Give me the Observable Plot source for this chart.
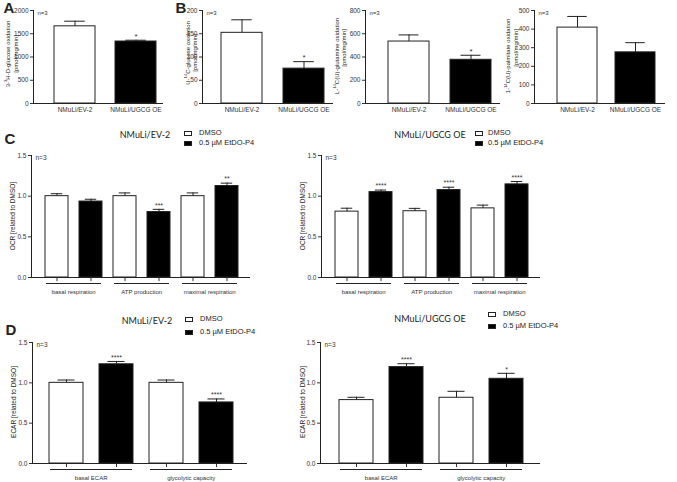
<!DOCTYPE html>
<html><head><meta charset="utf-8">
<script src="https://cdn.jsdelivr.net/npm/d3@7"></script>
<script src="https://cdn.jsdelivr.net/npm/@observablehq/plot@0.6"></script>
<style>
body{margin:0;background:#fff;}
#fig{position:relative;width:677px;height:482px;overflow:hidden;font-family:"Liberation Sans",Arial,sans-serif;color:#222;background:#fff;}
.abs{position:absolute;white-space:nowrap;line-height:1;}
.pane{position:absolute;}
sup{font-size:70%;vertical-align:super;line-height:0;}
</style></head><body><div id="fig"></div>
<script>
// ---------- data ----------
const cats = ["NMuLi/EV-2", "NMuLi/UGCG OE"];
// A
const glucose3H = [1660, 1333];
const glucose3HSem = [110, 28];
const glucose3HSig = ["", "*"];
const ticksA = [0, 500, 1000, 1500, 2000];
// B
const glucoseU14C = [152, 75];
const glucoseU14CSem = [28, 15];
const glucoseU14CSig = ["", "*"];
const ticksB1 = [0, 50, 100, 150, 200];
const glutamine = [533, 376];
const glutamineSem = [57, 39];
const glutamineSig = ["", "*"];
const ticksB2 = [0, 200, 400, 600, 800];
const palmitate = [408, 275];
const palmitateSem = [60, 52];
const palmitateSig = ["", ""];
const ticksB3 = [0, 100, 200, 300, 400, 500];
// C / D
const treatments = ["DMSO", "0.5 µM EtDO-P4"];
const ticksRel = [0, 0.5, 1.0, 1.5];
const ocrGroups = ["basal respiration", "ATP production", "maximal respiration"];
const ocrEvDmso = [1.0, 1.0, 1.0];
const ocrEvDmsoSem = [0.03, 0.04, 0.04];
const ocrEvEtdo = [0.934, 0.805, 1.125];
const ocrEvEtdoSem = [0.028, 0.033, 0.035];
const ocrEvSig = ["", "***", "**"];
const ocrOeDmso = [0.81, 0.815, 0.85];
const ocrOeDmsoSem = [0.042, 0.035, 0.04];
const ocrOeEtdo = [1.05, 1.075, 1.145];
const ocrOeEtdoSem = [0.025, 0.035, 0.035];
const ocrOeSig = ["****", "****", "****"];
const ecarGroups = ["basal ECAR", "glycolytic capacity"];
const ecarEvDmso = [1.0, 1.0];
const ecarEvDmsoSem = [0.035, 0.035];
const ecarEvEtdo = [1.23, 0.757];
const ecarEvEtdoSem = [0.035, 0.043];
const ecarEvSig = ["****", "****"];
const ecarOeDmso = [0.786, 0.815];
const ecarOeDmsoSem = [0.035, 0.08];
const ecarOeEtdo = [1.195, 1.05];
const ecarOeEtdoSem = [0.042, 0.068];
const ecarOeSig = ["****", "*"];

// ---------- helpers ----------
const INK = "#222";
const FONT = "Liberation Sans, Arial, sans-serif";
const fig = document.getElementById("fig");

function place(node, left, top) {
  const d = document.createElement("div");
  d.className = "pane";
  d.style.left = left + "px";
  d.style.top = top + "px";
  d.appendChild(node);
  fig.appendChild(d);
}
function txt(html, x, y, {size = 7, anchor = "start", weight = "normal", rotate = false, family = FONT} = {}) {
  const s = document.createElement("div");
  s.className = "abs";
  s.innerHTML = html;
  s.style.left = x + "px";
  s.style.top = y + "px";
  s.style.fontSize = size + "px";
  s.style.fontWeight = weight;
  s.style.fontFamily = family;
  const tx = anchor === "middle" ? "-50%" : anchor === "end" ? "-100%" : "0";
  s.style.transform = rotate ? "translate(-50%,-50%) rotate(-90deg)" : `translate(${tx},-50%)`;
  fig.appendChild(s);
}
function box(x, y, fill) {
  const b = document.createElement("div");
  b.style.cssText = `position:absolute;left:${x}px;top:${y}px;width:8px;height:5px;background:${fill};border:1px solid ${INK};box-sizing:border-box;`;
  fig.appendChild(b);
}

const baseStyle = {background: "transparent", fontFamily: FONT, fontSize: "6.5px", color: "#333", overflow: "visible"};

function oxChart({values, sems, sigs, ticks, plotW, band}) {
  const rows = cats.map((c, i) => ({cat: c, v: values[i], e: values[i] + sems[i], sig: sigs[i], fill: i ? "black" : "white"}));
  const ML = 28, MR = 6;
  const step = plotW / (2 - band[0] + 2 * band[1]);
  const bw = step * (1 - band[0]);
  return Plot.plot({
    width: ML + plotW + MR, height: 120,
    marginLeft: ML, marginRight: MR, marginTop: 10, marginBottom: 17,
    style: baseStyle,
    color: {type: "identity"},
    x: {domain: cats, paddingInner: band[0], paddingOuter: band[1], align: band[2], tickSize: 0, tickPadding: 4, label: null},
    y: {domain: [ticks[0], ticks[ticks.length - 1]], ticks, tickFormat: d3.format("d"), tickSize: 3, tickPadding: 2, label: null},
    marks: [
      Plot.frame({anchor: "left", stroke: INK}),
      Plot.barY(rows, {x: "cat", y: "v", fill: "fill", stroke: INK}),
      Plot.ruleX(rows, {x: "cat", y1: "v", y2: "e", stroke: INK}),
      Plot.tickY(rows, {x: "cat", y: "e", stroke: INK, inset: bw / 4}),
      Plot.text(rows, {x: "cat", y: "e", text: "sig", dy: -4, fontSize: 8}),
      Plot.ruleY([0], {stroke: INK}),
      Plot.text(["n=3"], {frameAnchor: "top-left", textAnchor: "start", text: d => d, dx: 4, fontSize: 6})
    ]
  });
}

function seaChart({groups, dmso, dmsoSem, etdo, etdoSem, sig, plotW, band, height, mb}) {
  const rows = [];
  groups.forEach((g, i) => {
    rows.push({key: g + "|" + treatments[0], v: dmso[i], e: dmso[i] + dmsoSem[i], sig: "", fill: "white"});
    rows.push({key: g + "|" + treatments[1], v: etdo[i], e: etdo[i] + etdoSem[i], sig: sig[i], fill: "black"});
  });
  const ML = 20, MR = 5;
  const step = plotW / (rows.length - band[0] + 2 * band[1]);
  const bw = step * (1 - band[0]);
  return Plot.plot({
    width: ML + plotW + MR, height,
    marginLeft: ML, marginRight: MR, marginTop: 10, marginBottom: mb,
    style: baseStyle,
    color: {type: "identity"},
    x: {domain: rows.map(d => d.key), paddingInner: band[0], paddingOuter: band[1], align: band[2], tickSize: 4, tickFormat: () => "", label: null},
    y: {domain: [0, 1.5], ticks: ticksRel, tickFormat: d3.format(".1f"), tickSize: 3, tickPadding: 2, label: null},
    marks: [
      Plot.frame({anchor: "left", stroke: INK}),
      Plot.barY(rows, {x: "key", y: "v", fill: "fill", stroke: INK}),
      Plot.ruleX(rows, {x: "key", y1: "v", y2: "e", stroke: INK}),
      Plot.tickY(rows, {x: "key", y: "e", stroke: INK, inset: bw / 4}),
      Plot.text(rows, {x: "key", y: "e", text: "sig", dy: -4, fontSize: 7}),
      Plot.ruleY([0], {stroke: INK}),
      Plot.ruleY(groups, {x1: g => g + "|" + treatments[0], x2: g => g + "|" + treatments[1], y: () => 0, dy: 6, insetLeft: 1, insetRight: 1, stroke: INK}),
      Plot.text(groups, {x: g => g + "|" + treatments[1], y: () => 0, text: d => d, dx: -step / 2, dy: 15, fontSize: 6}),
      Plot.text(["n=3"], {frameAnchor: "top-left", textAnchor: "start", text: d => d, dx: 4, fontSize: 6.5})
    ]
  });
}

// ---------- A / B ----------
place(oxChart({values: glucose3H, sems: glucose3HSem, sigs: glucose3HSig, ticks: ticksA, plotW: 130, band: [0.33, 0.23, 0.75]}), 5, 0);
place(oxChart({values: glucoseU14C, sems: glucoseU14CSem, sigs: glucoseU14CSig, ticks: ticksB1, plotW: 131, band: [0.34, 0.226, 0.68]}), 174, 0);
place(oxChart({values: glutamine, sems: glutamineSem, sigs: glutamineSig, ticks: ticksB2, plotW: 135, band: [0.333, 0.238, 0.73]}), 337, 0);
place(oxChart({values: palmitate, sems: palmitateSem, sigs: palmitateSig, ticks: ticksB3, plotW: 131, band: [0.305, 0.263, 0.71]}), 506, 0);

// ---------- C ----------
place(seaChart({groups: ocrGroups, dmso: ocrEvDmso, dmsoSem: ocrEvDmsoSem, etdo: ocrEvEtdo, etdoSem: ocrEvEtdoSem, sig: ocrEvSig, plotW: 219, band: [0.335, 0.33, 0.52], height: 155, mb: 23}), 11, 145);
place(seaChart({groups: ocrGroups, dmso: ocrOeDmso, dmsoSem: ocrOeDmsoSem, etdo: ocrOeEtdo, etdoSem: ocrOeEtdoSem, sig: ocrOeSig, plotW: 219, band: [0.335, 0.33, 0.52], height: 155, mb: 23}), 301, 145);

// ---------- D ----------
place(seaChart({groups: ecarGroups, dmso: ecarEvDmso, dmsoSem: ecarEvDmsoSem, etdo: ecarEvEtdo, etdoSem: ecarEvEtdoSem, sig: ecarEvSig, plotW: 215, band: [0.33, 0.29, 0.55], height: 150, mb: 19}), 12, 332);
place(seaChart({groups: ecarGroups, dmso: ecarOeDmso, dmsoSem: ecarOeDmsoSem, etdo: ecarOeEtdo, etdoSem: ecarOeEtdoSem, sig: ecarOeSig, plotW: 220, band: [0.33, 0.34, 0.52], height: 150, mb: 19}), 300, 332);

// ---------- texts ----------
const L = {size: 15, weight: "bold", anchor: "middle", family: "Liberation Sans, Arial, sans-serif"};
txt("A", 9, 7, L);
txt("B", 181, 7, L);
txt("C", 10, 138, L);
txt("D", 11, 329, L);

txt("3-<sup>3</sup>H-D-glucose oxidation", 8, 54, {size: 6, rotate: true});
txt("[pmol/mg/min]", 16, 54, {size: 6, rotate: true});
txt("U-<sup>14</sup>C-glucose oxidation", 188, 53, {size: 6, rotate: true});
txt("[pmol/mg/min]", 195, 53, {size: 6, rotate: true});
txt("L-<sup>14</sup>C(U)-glutamine oxidation", 337, 56, {size: 6, rotate: true});
txt("[pmol/mg/min]", 344, 48, {size: 6, rotate: true});
txt("1-<sup>14</sup>C(U)-palmitate oxidation", 508, 56, {size: 6, rotate: true});
txt("[pmol/mg/min]", 516, 48, {size: 6, rotate: true});

txt("OCR [related to DMSO]", 13, 216, {size: 6.5, rotate: true});
txt("OCR [related to DMSO]", 303, 216, {size: 6.5, rotate: true});
txt("ECAR [related to DMSO]", 14, 402, {size: 6.5, rotate: true});
txt("ECAR [related to DMSO]", 303, 402, {size: 6.5, rotate: true});

const T = {size: 9, anchor: "middle", family: "Lato, Liberation Sans, sans-serif"};
txt("NMuLi/EV-2", 145, 134, T);
txt("NMuLi/UGCG OE", 430, 134, T);
txt("NMuLi/EV-2", 147, 320, T);
txt("NMuLi/UGCG OE", 430, 318, T);

function legend(bx, tx, y1, y2) {
  box(bx, y1 - 2.5, "white");
  box(bx, y2 - 2.5, "black");
  txt(treatments[0], tx, y1, {size: 7.5});
  txt(treatments[1], tx, y2, {size: 7.5});
}
legend(184, 199, 133, 143);
legend(475, 488, 133, 143);
legend(185, 200, 319, 332);
legend(488, 503, 314, 326);
</script></body></html>
